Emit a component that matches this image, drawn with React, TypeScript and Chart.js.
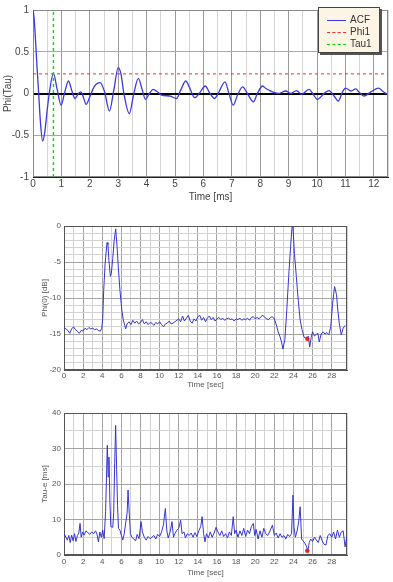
import React, { useEffect, useRef } from 'react';
import { Chart, registerables } from 'chart.js';
Chart.register(...registerables);

// ---------- Data ----------
const acfT = [0, 0.04, 0.08, 0.14, 0.2, 0.27, 0.34, 0.42, 0.5, 0.58, 0.72, 0.85, 0.99, 1.12, 1.25, 1.37, 1.48, 1.58, 1.68, 1.78, 1.87, 2.0, 2.15, 2.36, 2.52, 2.69, 2.85, 3.0, 3.1, 3.2, 3.39, 3.55, 3.71, 3.84, 3.96, 4.1, 4.23, 4.38, 4.53, 4.82, 5.05, 5.2, 5.38, 5.5, 5.7, 5.85, 6.07, 6.2, 6.39, 6.55, 6.76, 6.9, 7.05, 7.2, 7.38, 7.55, 7.76, 7.9, 8.08, 8.2, 8.34, 8.5, 8.64, 8.9, 9.08, 9.28, 9.46, 9.72, 9.85, 10.01, 10.25, 10.42, 10.6, 10.75, 10.9, 11.0, 11.2, 11.36, 11.5, 11.65, 11.9, 12.17, 12.3, 12.47];
const acfV = [1, 0.9, 0.69, 0.33, 0.0, -0.38, -0.57, -0.45, -0.2, 0.02, 0.24, 0.05, -0.14, 0.02, 0.15, 0.03, -0.06, -0.01, 0.02, -0.05, -0.13, -0.04, 0.08, 0.13, 0.02, -0.21, 0.05, 0.31, 0.23, 0.0, -0.24, 0.0, 0.18, 0.05, -0.07, 0.0, 0.05, 0.02, -0.02, -0.03, -0.06, 0.04, 0.15, 0.08, -0.05, 0.0, 0.09, 0.02, -0.06, 0.02, 0.14, 0.0, -0.14, -0.02, 0.08, 0.0, -0.1, 0.0, 0.09, 0.06, 0.035, 0.01, 0.0, 0.03, 0.0, 0.035, -0.01, 0.05, 0.0, -0.07, 0.0, 0.035, -0.03, -0.09, 0.02, 0.065, 0.03, 0.055, 0.01, -0.03, 0.02, 0.065, 0.03, -0.01];
const phi1Value = 0.235;
const tau1Value = 0.72;

const phiT = [0, 0.2, 0.4, 0.6, 0.8, 1.0, 1.2, 1.4, 1.6, 1.8, 2.0, 2.2, 2.4, 2.6, 2.8, 3.0, 3.2, 3.4, 3.6, 3.8, 3.95, 4.05, 4.15, 4.3, 4.5, 4.6, 4.7, 4.85, 4.95, 5.1, 5.25, 5.41, 5.55, 5.7, 5.85, 6.05, 6.2, 6.35, 6.45, 6.6, 6.8, 7.0, 7.2, 7.4, 7.6, 7.8, 8.0, 8.2, 8.4, 8.6, 8.8, 9.0, 9.2, 9.4, 9.6, 9.8, 10.0, 10.2, 10.4, 10.6, 10.8, 11.0, 11.2, 11.4, 11.6, 11.8, 12.0, 12.2, 12.4, 12.6, 12.8, 13.0, 13.2, 13.4, 13.6, 13.8, 14.0, 14.2, 14.4, 14.6, 14.8, 15.0, 15.2, 15.4, 15.6, 15.8, 16.0, 16.2, 16.4, 16.6, 16.8, 17.0, 17.2, 17.4, 17.6, 17.8, 18.0, 18.2, 18.4, 18.6, 18.8, 19.0, 19.2, 19.4, 19.6, 19.8, 20.0, 20.2, 20.4, 20.6, 20.8, 21.0, 21.2, 21.4, 21.6, 21.8, 22.0, 22.2, 22.4, 22.6, 22.75, 22.9, 23.1, 23.3, 23.5, 23.7, 23.85, 23.95, 24.1, 24.3, 24.5, 24.7, 24.9, 25.1, 25.3, 25.45, 25.55, 25.7, 25.85, 26.0, 26.2, 26.4, 26.55, 26.7, 26.9, 27.1, 27.3, 27.5, 27.7, 27.9, 28.1, 28.3, 28.5, 28.65, 28.8, 29.0, 29.2, 29.4, 29.6];
const phiV = [-14.1, -14.3, -14.5, -14.9, -14.3, -14.0, -14.4, -14.6, -14.9, -14.5, -14.6, -14.2, -14.4, -14.1, -14.3, -14.2, -14.4, -14.3, -14.5, -14.6, -14.2, -12.8, -9.0, -5.2, -2.3, -2.6, -4.8, -7.0, -6.6, -4.5, -2.0, -0.4, -2.9, -6.1, -8.9, -11.7, -13.05, -13.8, -14.3, -13.6, -13.3, -13.7, -13.1, -13.5, -13.2, -13.6, -13.4, -13.0, -13.6, -13.3, -13.7, -13.4, -13.5, -13.8, -13.4, -13.6, -13.3, -13.7, -14.0, -13.6, -13.5, -13.2, -13.6, -13.5, -13.3, -13.1, -12.9, -13.3, -12.5, -13.2, -12.8, -12.4, -13.2, -13.5, -12.9, -13.2, -12.6, -12.4, -13.1, -12.7, -13.3, -12.8, -12.5, -13.0, -12.7, -13.2, -12.9, -12.7, -13.0, -12.8, -13.1, -12.9, -12.8, -13.0, -12.9, -13.2, -12.9, -13.0, -12.8, -13.1, -12.9, -13.0, -12.8, -13.1, -12.7, -12.6, -12.9, -12.7, -12.9, -12.6, -12.4, -12.7, -12.9, -13.0, -12.7, -12.6, -12.9, -13.7, -14.7, -15.4, -16.1, -17.1, -15.8, -11.7, -7.0, -2.9, -0.1, -0.2, -3.8, -7.0, -10.3, -13.05, -14.4, -15.4, -15.6, -15.7, -15.3, -16.8, -15.5, -14.7, -15.3, -15.0, -14.9, -16.1, -15.0, -14.7, -15.0, -14.8, -15.1, -14.0, -10.7, -8.4, -9.5, -11.8, -13.6, -15.1, -14.2, -13.8];

const tauT = [0, 0.2, 0.35, 0.5, 0.65, 0.8, 0.95, 1.1, 1.25, 1.4, 1.55, 1.68, 1.8, 1.95, 2.1, 2.3, 2.5, 2.7, 2.9, 3.1, 3.3, 3.45, 3.6, 3.75, 3.9, 4.05, 4.2, 4.35, 4.53, 4.62, 4.7, 4.8, 4.9, 5.1, 5.2, 5.3, 5.4, 5.5, 5.6, 5.7, 5.85, 6.0, 6.15, 6.3, 6.45, 6.6, 6.7, 6.8, 6.95, 7.1, 7.3, 7.5, 7.65, 7.85, 8.06, 8.2, 8.4, 8.6, 8.8, 9.0, 9.2, 9.4, 9.6, 9.8, 10.0, 10.2, 10.4, 10.6, 10.75, 10.9, 11.1, 11.3, 11.45, 11.6, 11.8, 12.0, 12.2, 12.35, 12.55, 12.7, 12.9, 13.1, 13.3, 13.5, 13.7, 13.9, 14.1, 14.3, 14.45, 14.6, 14.75, 14.9, 15.1, 15.3, 15.5, 15.7, 15.9, 16.1, 16.3, 16.5, 16.7, 16.9, 17.1, 17.3, 17.5, 17.7, 17.85, 18.0, 18.2, 18.4, 18.6, 18.8, 19.0, 19.2, 19.4, 19.6, 19.8, 19.95, 20.1, 20.3, 20.5, 20.7, 20.9, 21.1, 21.3, 21.5, 21.8, 22.0, 22.2, 22.4, 22.6, 22.8, 23.0, 23.2, 23.4, 23.6, 23.8, 23.95, 24.05, 24.2, 24.4, 24.55, 24.7, 24.85, 25.0, 25.2, 25.35, 25.5, 25.65, 25.8, 26.0, 26.2, 26.4, 26.6, 26.8, 27.0, 27.2, 27.4, 27.6, 27.8, 28.0, 28.2, 28.4, 28.6, 28.8, 29.0, 29.2, 29.4, 29.6];
const tauV = [6.1, 5.0, 4.2, 5.5, 3.5, 5.6, 4.0, 6.0, 3.8, 5.5, 6.2, 8.9, 5.0, 6.5, 5.6, 6.8, 6.3, 5.8, 6.5, 6.0, 6.8, 5.9, 3.7, 6.5, 5.0, 7.0, 4.6, 12.2, 30.9, 22.0, 27.6, 15.0, 8.0, 7.8, 12.0, 25.7, 36.5, 25.0, 14.0, 7.5, 7.0, 5.5, 4.2, 6.0, 9.0, 11.7, 18.3, 13.0, 6.0, 5.0, 4.5, 4.0, 5.8, 4.6, 9.4, 6.5, 5.0, 4.2, 5.2, 4.6, 5.0, 5.5, 4.5, 5.8, 5.2, 6.5, 8.5, 13.1, 7.0, 4.8, 6.5, 9.4, 5.0, 6.0, 7.0, 7.5, 9.8, 6.0, 6.5, 4.8, 6.0, 5.5, 6.2, 5.0, 6.3, 5.2, 6.8, 8.0, 10.8, 6.0, 3.7, 6.0, 4.8, 6.5, 5.0, 6.2, 7.8, 6.5, 5.5, 6.8, 5.2, 6.0, 4.8, 6.5, 5.5, 10.8, 6.0, 7.0, 5.0, 6.8, 5.5, 7.5, 5.2, 7.0, 6.0, 8.0, 8.9, 5.5, 7.2, 4.5, 6.8, 5.0, 7.5, 6.0, 5.5, 6.5, 8.4, 5.5, 6.2, 4.8, 6.0, 5.0, 5.5, 4.5, 5.8, 5.2, 6.0, 16.9, 8.0, 5.0, 7.0, 9.5, 13.6, 4.5, 4.0, 3.3, 2.5, 1.2, 3.5, 4.5, 3.8, 5.0, 4.2, 3.5, 5.5, 4.0, 3.0, 2.8, 5.5, 6.0, 5.0, 6.5, 4.5, 7.0, 5.0, 6.5, 6.8, 2.3, 5.5];

const markerT = 25.45;
const markerPhi = -15.65;
const markerTau = 1.2;

// ---------- helpers ----------
const FONT = 'Liberation Sans, Arial, sans-serif';
const pts = (xs: number[], ys: number[]) => xs.map((x, i) => ({ x, y: ys[i] }));
const isInt = (v: number) => Math.abs(v - Math.round(v)) < 1e-6;

const framePlugin = {
  id: 'frame',
  beforeDatasetsDraw(chart: any, _a: any, opts: any) {
    const { ctx, chartArea } = chart;
    const { left, top, right, bottom } = chartArea;
    ctx.save();
    ctx.strokeStyle = opts.color || '#666';
    ctx.lineWidth = 1;
    ctx.strokeRect(Math.round(left) + 0.5, Math.round(top) + 0.5, Math.round(right - left) - 1, Math.round(bottom - top) - 1);
    ctx.restore();
  },
};

function useChart(ref: React.RefObject<HTMLCanvasElement>, make: () => any) {
  useEffect(() => {
    if (!ref.current) return;
    const c = new Chart(ref.current, make());
    return () => c.destroy();
  }, []);
}

function acfConfig() {
  return {
    type: 'line',
    data: {
      datasets: [
        { label: 'ACF', data: pts(acfT, acfV), borderColor: '#3a3ae0', borderWidth: 1.3, pointRadius: 0, cubicInterpolationMode: 'monotone', order: 1 },
        { label: 'Phi1', data: [{ x: 0, y: phi1Value }, { x: 12.5, y: phi1Value }], borderColor: '#ff2a2a', borderWidth: 1, borderDash: [3, 3], pointRadius: 0, order: 2 },
        { label: 'Tau1', data: [{ x: tau1Value, y: -1 }, { x: tau1Value, y: 1 }], borderColor: '#00dd00', borderWidth: 1.4, borderDash: [3, 3], pointRadius: 0, order: 0 },
      ],
    },
    options: {
      responsive: false,
      animation: false,
      events: [],
      layout: { padding: { left: 0, right: 5, top: 7, bottom: 0 } },
      plugins: { legend: { display: false }, tooltip: { enabled: false }, frame: { color: '#888' } },
      scales: {
        x: {
          type: 'linear', min: 0, max: 12.5,
          afterFit: (s: any) => { s.height = 28; },
          ticks: { stepSize: 0.5, autoSkip: false, maxRotation: 0, padding: 1, color: '#444', font: { family: FONT, size: 10 }, callback: (v: number) => (isInt(v) ? String(Math.round(v)) : '') },
          grid: { drawTicks: false, color: (c: any) => (isInt(c.tick.value) ? '#9a9a9a' : '#d6d6d6') },
          border: { color: '#222', width: 1 },
          title: { display: true, text: 'Time [ms]', color: '#444', font: { family: FONT, size: 10 }, padding: { top: 0, bottom: 2 } },
        },
        y: {
          type: 'linear', min: -1, max: 1,
          afterFit: (s: any) => { s.width = 33; },
          ticks: { stepSize: 0.5, autoSkip: false, padding: 4, color: '#444', font: { family: FONT, size: 10 }, callback: (v: number) => String(Math.round(v * 10) / 10) },
          grid: { drawTicks: false, color: (c: any) => (Math.abs(c.tick.value) < 1e-6 ? '#000' : '#a8a8a8'), lineWidth: (c: any) => (Math.abs(c.tick.value) < 1e-6 ? 2 : 1) },
          border: { color: '#000', width: 1 },
          title: { display: true, text: 'Phi(Tau)', color: '#444', font: { family: FONT, size: 10 }, padding: { top: 2, bottom: 0 } },
        },
      },
    },
    plugins: [framePlugin],
  };
}

function timeConfig(xsArr: number[], ysArr: number[], mx: number, my: number, yMin: number, yMax: number, yStep: number, yMajor: number, yLabel: string, padTop: number, xH: number, titlePadBottom: number, tickPad: number) {
  return {
    type: 'line',
    data: {
      datasets: [
        { data: pts(xsArr, ysArr), borderColor: '#3535d0', borderWidth: 1, pointRadius: 0, tension: 0, order: 1 },
        { data: [{ x: mx, y: my }], showLine: false, pointRadius: 2.2, pointBackgroundColor: '#e02222', pointBorderColor: '#e02222', pointBorderWidth: 0, order: 0 },
      ],
    },
    options: {
      responsive: false,
      animation: false,
      events: [],
      layout: { padding: { left: 0, right: 46, top: padTop, bottom: 0 } },
      plugins: { legend: { display: false }, tooltip: { enabled: false }, frame: { color: '#555' } },
      scales: {
        x: {
          type: 'linear', min: 0, max: 29.6,
          afterFit: (s: any) => { s.height = xH; },
          ticks: { stepSize: 1, autoSkip: false, maxRotation: 0, padding: tickPad, color: '#555', font: { family: FONT, size: 8 }, callback: (v: number) => (isInt(v) && Math.round(v) % 2 === 0 ? String(Math.round(v)) : '') },
          grid: { drawTicks: false, color: (c: any) => (isInt(c.tick.value) && Math.round(c.tick.value) % 2 === 0 ? '#a4a4a4' : '#d2d2d2') },
          border: { color: '#555', width: 1 },
          title: { display: true, text: 'Time [sec]', color: '#555', font: { family: FONT, size: 8 }, padding: { top: 0, bottom: titlePadBottom } },
        },
        y: {
          type: 'linear', min: yMin, max: yMax,
          afterFit: (s: any) => { s.width = 64; },
          ticks: { stepSize: yStep, autoSkip: false, padding: 3, color: '#555', font: { family: FONT, size: 8 }, callback: (v: number) => (isInt(v / yMajor) ? String(Math.round(v)) : '') },
          grid: { drawTicks: false, color: (c: any) => (isInt(c.tick.value / yMajor) ? '#a4a4a4' : '#d2d2d2') },
          border: { color: '#555', width: 1 },
          title: { display: true, text: yLabel, color: '#555', font: { family: FONT, size: 8 }, padding: { top: 40, bottom: 0 } },
        },
      },
    },
    plugins: [framePlugin],
  };
}

function Legend() {
  const row = (label: string, color: string, dashed: boolean, top: number) => (
    <div style={{ position: 'absolute', left: 0, top, height: 12, width: 60 }}>
      <div style={{ position: 'absolute', left: 8, top: 6, width: 19, height: 0, borderTop: `1px ${dashed ? 'dashed' : 'solid'} ${color}` }} />
      <span style={{ position: 'absolute', left: 31, top: 0, fontSize: 10, lineHeight: '12px', color: '#333', fontFamily: FONT }}>{label}</span>
    </div>
  );
  return (
    <div style={{ position: 'absolute', left: 318, top: 7, width: 60, height: 44, background: '#fcf5e5', border: '1px solid #444', boxShadow: '2px 2px 0 #555' }}>
      {row('ACF', '#3a3ae0', false, 6)}
      {row('Phi1', '#ff2a2a', true, 18)}
      {row('Tau1', '#00dd00', true, 30)}
    </div>
  );
}

export default function App() {
  const r1 = useRef<HTMLCanvasElement>(null);
  const r2 = useRef<HTMLCanvasElement>(null);
  const r3 = useRef<HTMLCanvasElement>(null);
  useChart(r1, () => acfConfig());
  useChart(r2, () => timeConfig(phiT, phiV, markerT, markerPhi, -20, 0, 1, 5, 'Phi(0) [dB]', 14, 22, 2, 1));
  useChart(r3, () => timeConfig(tauT, tauV, markerT, markerTau, 0, 40, 5, 10, 'Tau-e [ms]', 15, 27, 4, 2));
  return (
    <div style={{ position: 'absolute', left: 0, top: 0, width: 393, height: 582, background: '#fff', overflow: 'hidden' }}>
      <canvas ref={r1} width={393} height={205} style={{ position: 'absolute', left: 0, top: 0 }} />
      <Legend />
      <canvas ref={r2} width={393} height={180} style={{ position: 'absolute', left: 0, top: 212 }} />
      <canvas ref={r3} width={393} height={184} style={{ position: 'absolute', left: 0, top: 398 }} />
    </div>
  );
}
